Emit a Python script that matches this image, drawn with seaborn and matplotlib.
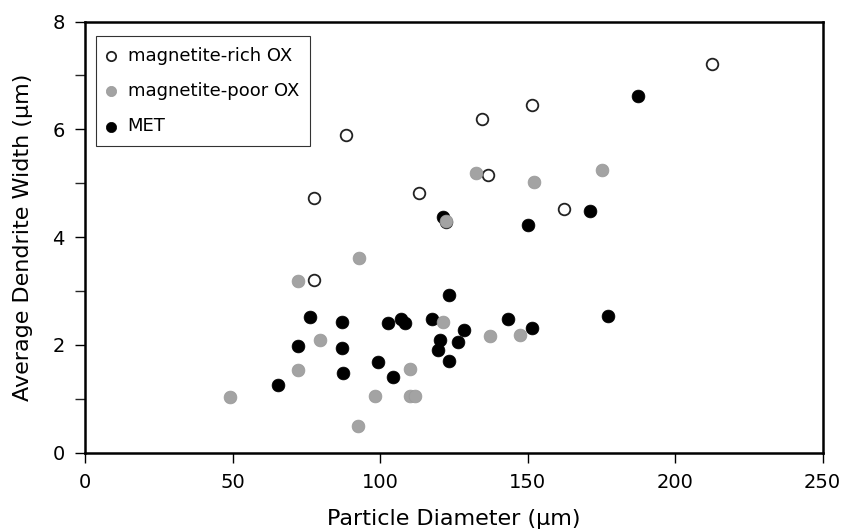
import pandas as pd
import numpy as np
import matplotlib
matplotlib.use("Agg")
import matplotlib.pyplot as plt
import seaborn as sns

# DATA
rich_x = [88.4, 77.5, 113.3, 212.4, 151.4, 134.4, 136.5, 162.2, 77.5, 122.3]
rich_y = [5.90, 4.72, 4.81, 7.22, 6.45, 6.20, 5.15, 4.52, 3.20, 4.28]

poor_x = [49.2, 72.1, 72.1, 79.6, 92.8, 92.4, 98.4, 110.1, 110.1, 111.8,
          121.4, 122.3, 132.5, 152.2, 175.3, 137.2, 147.4]
poor_y = [1.03, 3.18, 1.54, 2.09, 3.62, 0.50, 1.06, 1.56, 1.06, 1.06,
          2.43, 4.30, 5.19, 5.02, 5.24, 2.16, 2.18]

met_x = [65.3, 72.1, 76.2, 87.2, 87.2, 87.5, 99.4, 102.6, 104.5, 107.2,
         108.4, 117.5, 120.3, 119.5, 123.5, 123.5, 121.4, 126.3, 128.4,
         143.2, 151.5, 177.2, 150.2, 171.1, 187.3]
met_y = [1.25, 1.98, 2.51, 2.42, 1.94, 1.48, 1.68, 2.40, 1.41, 2.48,
         2.40, 2.49, 2.09, 1.90, 2.93, 1.70, 4.38, 2.05, 2.27,
         2.48, 2.32, 2.54, 4.22, 4.48, 6.62]

LABELS = ["magnetite-rich OX", "magnetite-poor OX", "MET"]

rich = pd.DataFrame({"x": rich_x, "y": rich_y})
poor = pd.DataFrame({"x": poor_x, "y": poor_y})
met = pd.DataFrame({"x": met_x, "y": met_y})

sns.set_style("ticks")
plt.rcParams["font.family"] = ["DejaVu Sans"]
plt.rcParams["text.color"] = "black"
plt.rcParams["axes.labelcolor"] = "black"

fig = plt.figure(figsize=(8.43, 5.30), dpi=100)
ax = fig.add_axes([0.1008, 0.1458, 0.8751, 0.8136])

sns.scatterplot(data=rich, x="x", y="y", ax=ax, s=70, color="white",
                edgecolor="#222222", linewidth=1.3, label=LABELS[0], zorder=2)
sns.scatterplot(data=met, x="x", y="y", ax=ax, s=85, color="black",
                edgecolor="black", linewidth=0.5, label=LABELS[2], zorder=3)
sns.scatterplot(data=poor, x="x", y="y", ax=ax, s=85, color="#a3a3a3",
                edgecolor="#999999", linewidth=0.5, label=LABELS[1], zorder=4)

ax.set_xlim(0, 250)
ax.set_ylim(0, 8)
ax.set_xticks([0, 50, 100, 150, 200, 250])
ax.set_yticks([0, 2, 4, 6, 8])
ax.set_yticks([1, 3, 5, 7], minor=True)
ax.tick_params(axis="both", which="major", direction="out", length=7.5,
               width=1, labelsize=14, colors="black")
ax.tick_params(axis="y", which="minor", direction="out", length=7.5, width=1)
ax.tick_params(axis="x", which="major", pad=7)
ax.tick_params(axis="y", which="major", pad=7)

for side in ["top", "right", "bottom", "left"]:
    ax.spines[side].set_visible(True)
    ax.spines[side].set_linewidth(1.8)
    ax.spines[side].set_color("black")

ax.set_xlabel("Particle Diameter (μm)", fontsize=16, labelpad=12)
ax.set_ylabel("Average Dendrite Width (μm)", fontsize=16, labelpad=14)

# legend in the original order
handles, labels = ax.get_legend_handles_labels()
order = [labels.index(l) for l in LABELS]
leg = ax.legend([handles[i] for i in order], [labels[i] for i in order],
                loc="upper left", bbox_to_anchor=(0.0145, 0.966),
                borderaxespad=0.0,
                frameon=True, fancybox=False, edgecolor="black",
                fontsize=13, labelspacing=0.95, handletextpad=0.67,
                handlelength=0.5, borderpad=0.6, markerscale=0.8)
leg.get_frame().set_linewidth(0.8)

plt.savefig("out.png", dpi=100)
plt.close()
